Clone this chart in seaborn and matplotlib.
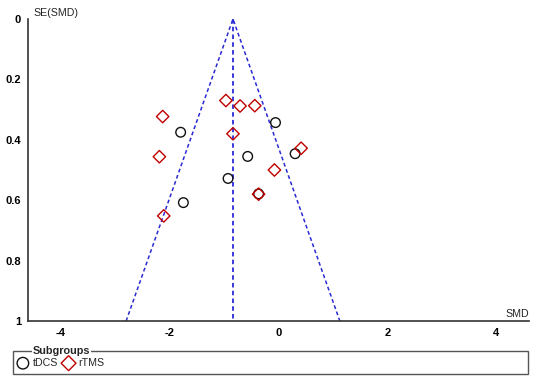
import matplotlib
matplotlib.use("Agg")
import matplotlib.pyplot as plt
from matplotlib.patches import Rectangle
import seaborn as sns
import pandas as pd

# ---- data ----
tdcs_smd = [-1.79, -0.05, -0.56, 0.31, -0.92, -0.36, -1.74]
tdcs_se = [0.375, 0.343, 0.455, 0.446, 0.528, 0.579, 0.608]
rtms_smd = [-2.12, -0.96, -0.70, -0.43, -0.83, -2.18, 0.42, -0.07, -0.36, -2.10]
rtms_se = [0.323, 0.270, 0.288, 0.287, 0.380, 0.456, 0.428, 0.500, 0.580, 0.652]
pooled_smd = -0.83
x_ticks = [-4, -2, 0, 2, 4]
y_ticks = [0, 0.2, 0.4, 0.6, 0.8, 1]
y_ticklabels = ["0", "0.2", "0.4", "0.6", "0.8", "1"]

df_t = pd.DataFrame({"SMD": tdcs_smd, "SE": tdcs_se})
df_r = pd.DataFrame({"SMD": rtms_smd, "SE": rtms_se})

sns.set_style("white")
plt.rcParams["font.family"] = ["Liberation Sans", "DejaVu Sans"]

fig = plt.figure(figsize=(5.36, 3.81), dpi=100)
ax = fig.add_axes([28 / 536, 60 / 381, 501 / 536, 302 / 381])

blue = "#2a2ad4"
# funnel lines
ax.plot([pooled_smd, pooled_smd], [0, 1], color=blue, ls=(0, (2.5, 1.8)), lw=1.3, zorder=1)
ax.plot([pooled_smd - 1.96, pooled_smd, pooled_smd + 1.96], [1, 0, 1],
        color=blue, ls=(0, (2.5, 1.8)), lw=1.1, zorder=1)

sns.scatterplot(data=df_t, x="SMD", y="SE", ax=ax, marker="o", s=48,
                color="#111111", facecolors="none", edgecolor="#111111",
                linewidth=1.0, label="tDCS", zorder=3)
sns.scatterplot(data=df_r, x="SMD", y="SE", ax=ax, marker="D", s=40,
                color="#c00000", facecolors="none", edgecolor="#c00000",
                linewidth=1.0, label="rTMS", zorder=3)

ax.set_xlim(-4.59, 4.6)
ax.set_ylim(1, 0)
ax.set_xticks(x_ticks)
ax.set_xticklabels([str(v) for v in x_ticks])
ax.set_yticks(y_ticks)
ax.set_yticklabels(y_ticklabels)
ax.set_xlabel("")
ax.set_ylabel("")
for s in ["top", "right"]:
    ax.spines[s].set_visible(False)
for s in ["left", "bottom"]:
    ax.spines[s].set_color("#333333")
    ax.spines[s].set_linewidth(1.2)
ax.tick_params(axis="both", direction="inout", length=6, width=1.1,
               colors="#333333", labelcolor="black", labelsize=8, pad=2)
for lab in ax.get_xticklabels() + ax.get_yticklabels():
    lab.set_fontweight("bold")

ax.annotate("SE(SMD)", xy=(0.01, 1.02), xycoords="axes fraction",
            ha="left", va="center", fontsize=7.7)
ax.annotate("SMD", xy=(1.0, 0.008), xycoords="axes fraction",
            ha="right", va="bottom", fontsize=7.7)

# legend
handles, labels = ax.get_legend_handles_labels()
if ax.get_legend():
    ax.get_legend().remove()
fig.legend(handles, labels, loc="center left", bbox_to_anchor=(17 / 536, 18 / 381),
           ncol=2, frameon=False, fontsize=7.7, handletextpad=0.35,
           columnspacing=0.45, handlelength=1.1, borderpad=0, borderaxespad=0,
           markerscale=1.2)
fig.patches.append(Rectangle((13 / 536, 7 / 381), 515 / 536, 23 / 381,
                             transform=fig.transFigure, fill=False,
                             edgecolor="#555555", lw=1.0))
fig.text(33 / 536, (381 - 351) / 381, "Subgroups", ha="left", va="center",
         fontsize=7.8, fontweight="bold",
         bbox=dict(facecolor="white", edgecolor="none", pad=0.5))

fig.savefig("out.png", dpi=100)
